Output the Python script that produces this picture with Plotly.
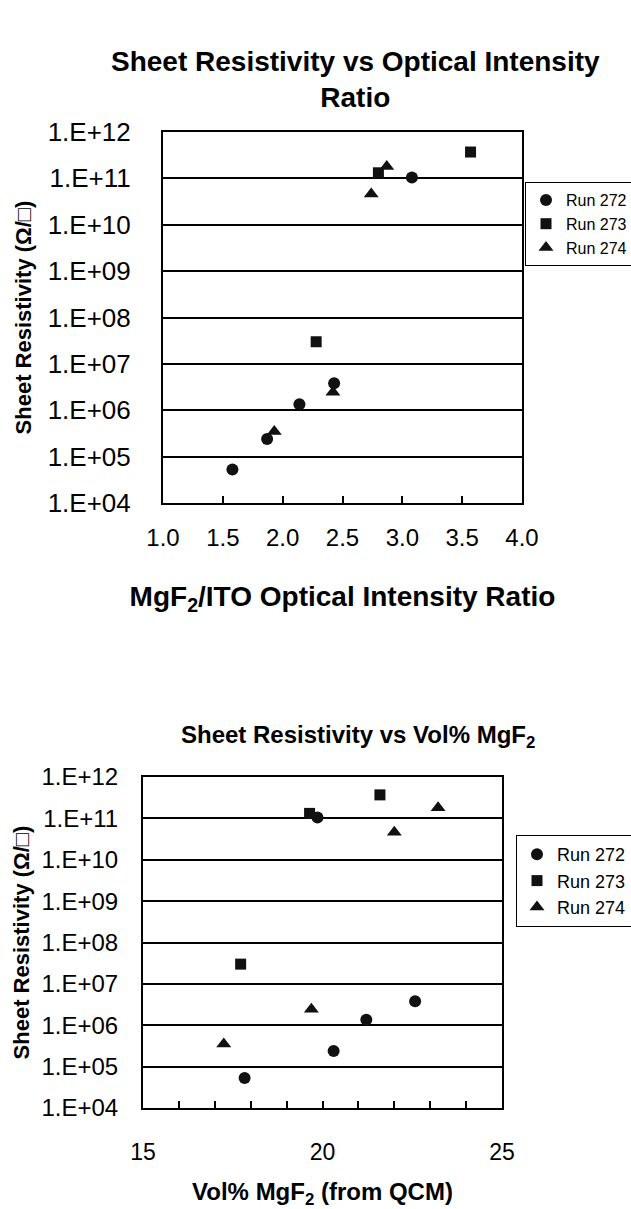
import plotly.graph_objects as go

W, H = 631, 1209

# ---------------- data ----------------
runs = ["Run 272", "Run 273", "Run 274"]
symbols = ["circle", "square", "triangle-up"]
marker_sizes = [12, 11, 13]

# Top chart: MgF2/ITO optical intensity ratio
ratio_272 = [1.58, 1.87, 2.14, 2.43, 3.08]
ratio_273 = [2.28, 2.80, 3.57]
ratio_274 = [1.93, 2.42, 2.74, 2.87]

# Bottom chart: Vol% MgF2 (from QCM)
vol_272 = [17.83, 20.31, 21.22, 22.58, 19.86]
vol_273 = [17.72, 19.64, 21.60]
vol_274 = [17.25, 19.69, 22.00, 23.22]

# Sheet resistivity (ohm/sq), same samples in both charts
rs_272 = [5.3e4, 2.4e5, 1.35e6, 3.8e6, 1.05e11]
rs_273 = [3.0e7, 1.32e11, 3.7e11]
rs_274 = [3.5e5, 2.45e6, 4.6e10, 1.8e11]

ytick_vals = [1e4, 1e5, 1e6, 1e7, 1e8, 1e9, 1e10, 1e11, 1e12]
ytick_text = ["1.E+04", "1.E+05", "1.E+06", "1.E+07", "1.E+08",
              "1.E+09", "1.E+10", "1.E+11", "1.E+12"]
top_xticks = [1.0, 1.5, 2.0, 2.5, 3.0, 3.5, 4.0]
bot_xticks = [15, 20, 25]

top_x = [ratio_272, ratio_273, ratio_274]
bot_x = [vol_272, vol_273, vol_274]
ys = [rs_272, rs_273, rs_274]

FONT = "Liberation Sans, Arial, sans-serif"

def px_x(p):
    return p / W

def px_y(p):
    return 1 - p / H

fig = go.Figure()

for i in range(3):
    fig.add_trace(go.Scatter(
        x=top_x[i], y=ys[i], mode="markers", name=runs[i],
        marker=dict(symbol=symbols[i], size=marker_sizes[i], color="#111111"),
        xaxis="x", yaxis="y", legend="legend"))
for i in range(3):
    fig.add_trace(go.Scatter(
        x=bot_x[i], y=ys[i], mode="markers", name=runs[i],
        marker=dict(symbol=symbols[i], size=marker_sizes[i], color="#111111"),
        xaxis="x2", yaxis="y2", legend="legend2"))

# plot area pixel boxes
T = dict(x0=163, x1=522, y0=132, y1=503)
B = dict(x0=143, x1=502, y0=777, y1=1108)

common_axis = dict(showline=True, linecolor="black", linewidth=2, mirror=True,
                   zeroline=False, automargin=False)

fig.update_layout(
    width=W, height=H,
    margin=dict(l=0, r=0, t=0, b=0, autoexpand=False),
    paper_bgcolor="white", plot_bgcolor="white",
    font=dict(family=FONT, color="black"),
    xaxis=dict(
        domain=[px_x(T["x0"]), px_x(T["x1"])], anchor="y",
        range=[1.0, 4.0], tickvals=top_xticks,
        ticktext=[f"{v:.1f}" for v in top_xticks],
        ticks="inside", ticklen=7, tickwidth=2, tickcolor="black",
        ticklabelstandoff=12,
        tickfont=dict(size=24, family=FONT),
        showgrid=False,
        title=dict(text="<b>MgF<sub>2</sub>/ITO Optical Intensity Ratio</b>",
                   font=dict(size=28, family=FONT), standoff=37),
        **common_axis),
    yaxis=dict(
        domain=[px_y(T["y1"]), px_y(T["y0"])], anchor="x",
        type="log", range=[4, 12], tickvals=ytick_vals, ticktext=ytick_text,
        ticks="", ticklabelstandoff=25,
        tickfont=dict(size=26, family=FONT),
        showgrid=True, gridcolor="black", gridwidth=2,
        title=dict(text="<b>Sheet Resistivity (Ω/□)</b>",
                   font=dict(size=22, family=FONT), standoff=10),
        **common_axis),
    xaxis2=dict(
        domain=[px_x(B["x0"]), px_x(B["x1"])], anchor="y2",
        range=[15, 25], tickvals=bot_xticks,
        ticks="inside", ticklen=7, tickwidth=2, tickcolor="black",
        minor=dict(dtick=1, ticks="inside", ticklen=7, tickwidth=2, tickcolor="black"),
        ticklabelstandoff=22,
        tickfont=dict(size=23, family=FONT),
        showgrid=False,
        title=dict(text="<b>Vol% MgF<sub>2</sub> (from QCM)</b>",
                   font=dict(size=24, family=FONT), standoff=26),
        **common_axis),
    yaxis2=dict(
        domain=[px_y(B["y1"]), px_y(B["y0"])], anchor="x2",
        type="log", range=[4, 12], tickvals=ytick_vals, ticktext=ytick_text,
        ticks="", ticklabelstandoff=18,
        tickfont=dict(size=24, family=FONT),
        showgrid=True, gridcolor="black", gridwidth=2,
        title=dict(text="<b>Sheet Resistivity (Ω/□)</b>",
                   font=dict(size=22, family=FONT), standoff=6),
        **common_axis),
    legend=dict(
        x=px_x(525), y=px_y(182), xanchor="left", yanchor="top",
        bordercolor="black", borderwidth=1, bgcolor="white",
        font=dict(size=16, family=FONT), itemwidth=30, tracegroupgap=0),
    legend2=dict(
        x=px_x(516), y=px_y(835), xanchor="left", yanchor="top",
        bordercolor="black", borderwidth=1, bgcolor="white",
        font=dict(size=18, family=FONT), itemwidth=30, tracegroupgap=0),
    annotations=[
        dict(text="<b>Sheet Resistivity vs Optical Intensity<br>Ratio</b>",
             x=px_x(356), y=px_y(80), xref="paper", yref="paper",
             xanchor="center", yanchor="middle", showarrow=False,
             font=dict(size=28, family=FONT)),
        dict(text="<b>Sheet Resistivity vs Vol% MgF<sub>2</sub></b>",
             x=px_x(358), y=px_y(736), xref="paper", yref="paper",
             xanchor="center", yanchor="middle", showarrow=False,
             font=dict(size=24, family=FONT)),
    ],
    showlegend=True,
)

fig.write_html("out.html")
